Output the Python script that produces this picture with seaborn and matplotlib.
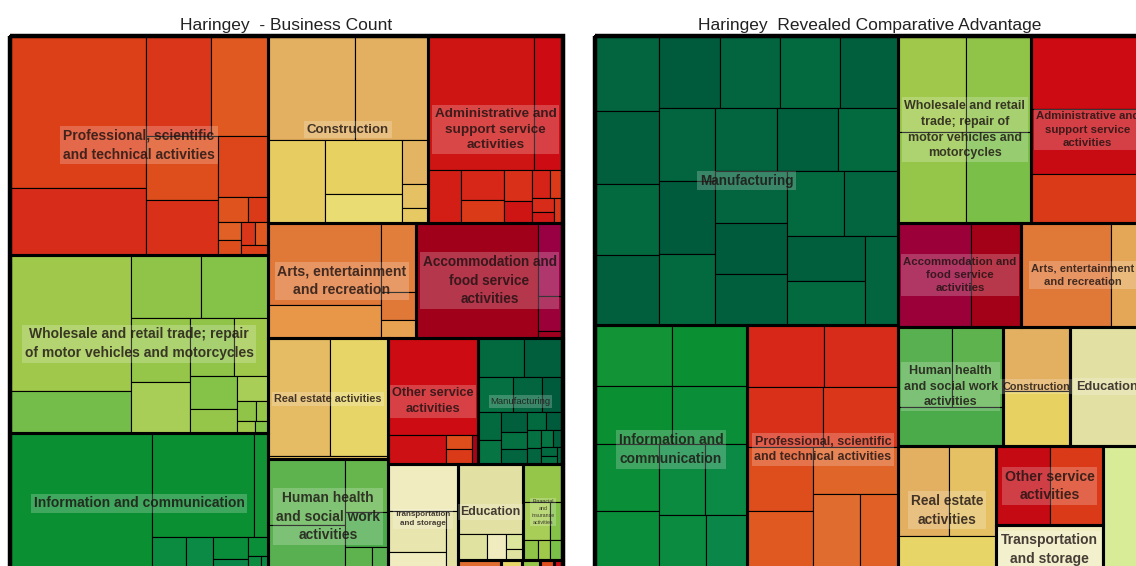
import numpy as np
import seaborn as sns
import matplotlib.pyplot as plt
from matplotlib.patches import Rectangle
from matplotlib.colors import LinearSegmentedColormap

# ---- data ----
# left chart: business count per sub-sector (sizes) and a colour score per sub-sector
left_sectors = ["Professional", "Wholesale", "Information", "Construction", "Administrative",
                "Arts", "Accommodation", "Real estate", "Human health", "Other service",
                "Manufacturing", "Transportation", "Education", "Financial",
                "Agriculture", "Water supply", "Electricity", "Public administration", "Mining"]
left_labels = ["Professional, scientific\nand technical activities",
               "Wholesale and retail trade; repair\nof motor vehicles and motorcycles",
               "Information and communication",
               "Construction",
               "Administrative and\nsupport service\nactivities",
               "Arts, entertainment\nand recreation",
               "Accommodation and\nfood service\nactivities",
               "Real estate activities",
               "Human health\nand social work\nactivities",
               "Other service\nactivities",
               "Manufacturing",
               "Transportation\nand storage",
               "Education",
               "Financial\nand\ninsurance\nactivities",
               "", "", "", "", ""]
left_sizes = [
    [821, 359, 256, 227, 184, 155, 122, 31, 20, 16, 14, 12, 12, 10],
    [658, 200, 175, 170, 150, 120, 100, 80, 60, 45, 30, 15, 10, 8, 6],
    [795, 420, 60, 50, 40, 30, 20, 15, 10, 5],
    [358, 300, 189, 168, 90, 45, 24, 16],
    [566, 152, 70, 50, 40, 35, 25, 20, 15, 12, 10, 9],
    [365, 150, 95, 40, 25],
    [556, 72, 35, 7],
    [290, 270, 16],
    [200, 150, 90, 60, 30, 17],
    [345, 68, 15, 15, 7],
    [70, 60, 50, 40, 30, 25, 22, 20, 18, 15, 14, 12, 10, 9, 8, 7, 6, 5, 4],
    [130, 95, 50, 30],
    [180, 30, 20, 10, 7],
    [60, 40, 20, 12, 10, 10],
    [24], [12], [10], [8], [5],
]
left_scores = [
    [0.31, 0.27, 0.29, 0.35, 0.33, 0.28, 0.32, 0.34, 0.30, 0.36, 0.33, 0.29, 0.35, 0.31],
    [0.71, 0.76, 0.73, 0.74, 0.72, 0.70, 0.73, 0.71, 0.74, 0.72, 0.70, 0.73, 0.72, 0.71, 0.74],
    [0.87, 0.87, 0.86, 0.90, 0.91, 0.89, 0.92, 0.88, 0.90, 0.91],
    [0.47, 0.47, 0.53, 0.54, 0.56, 0.48, 0.50, 0.52],
    [0.22, 0.20, 0.24, 0.26, 0.30, 0.28, 0.22, 0.25, 0.30, 0.27, 0.23, 0.29],
    [0.40, 0.44, 0.41, 0.40, 0.45],
    [0.07, 0.0, 0.02, 0.06],
    [0.49, 0.55, 0.50],
    [0.79, 0.80, 0.78, 0.81, 0.79, 0.80],
    [0.20, 0.21, 0.33, 0.30, 0.10],
    [0.97, 0.99, 0.96, 0.98, 1.0, 0.97, 0.95, 0.99, 0.96, 0.98, 0.97, 1.0, 0.96, 0.98, 0.95, 0.99, 0.97, 0.96, 0.98],
    [0.60, 0.61, 0.60, 0.62],
    [0.62, 0.63, 0.60, 0.64, 0.63],
    [0.72, 0.70, 0.74, 0.73, 0.71, 0.75],
    [0.38], [0.55], [0.72], [0.33], [0.20],
]

# right chart: revealed comparative advantage per sub-sector
right_sectors = ["Manufacturing", "Information", "Professional", "Wholesale", "Administrative",
                 "Accommodation", "Arts", "Human health", "Construction", "Education",
                 "Real estate", "Other service", "Transportation", "Financial"]
right_labels = ["Manufacturing",
                "Information and\ncommunication",
                "Professional, scientific\nand technical activities",
                "Wholesale and retail\ntrade; repair of\nmotor vehicles and\nmotorcycles",
                "Administrative and\nsupport service\nactivities",
                "Accommodation and\nfood service\nactivities",
                "Arts, entertainment\nand recreation",
                "Human health\nand social work\nactivities",
                "Construction",
                "Education",
                "Real estate\nactivities",
                "Other service\nactivities",
                "Transportation\nand storage",
                ""]
right_sizes = [
    [190, 185, 180, 178, 175, 172, 170, 168, 165, 162, 160, 158, 155, 152, 150, 150, 148, 145, 142, 140, 138, 118],
    [185, 182, 180, 178, 170, 160, 130, 120, 110, 97],
    [190, 185, 180, 178, 170, 165, 160, 150, 124],
    [260, 250, 245, 238],
    [330, 290, 222],
    [300, 208],
    [370, 137],
    [170, 165, 164],
    [170, 147],
    [355],
    [180, 170, 146],
    [170, 168],
    [208],
    [208],
]
right_scores = [
    [0.98, 0.99, 0.97, 0.99, 1.0, 0.98, 0.97, 0.99, 0.98, 1.0, 0.97, 0.98, 0.99, 0.97, 0.98, 1.0, 0.99, 0.97, 0.98, 0.99, 0.97, 0.98],
    [0.86, 0.87, 0.87, 0.88, 0.88, 0.89, 0.90, 0.91, 0.90, 0.92],
    [0.26, 0.27, 0.28, 0.29, 0.33, 0.35, 0.37, 0.38, 0.36],
    [0.71, 0.73, 0.72, 0.75],
    [0.20, 0.19, 0.30],
    [0.02, 0.08],
    [0.40, 0.46],
    [0.80, 0.79, 0.81],
    [0.47, 0.54],
    [0.62],
    [0.47, 0.50, 0.55],
    [0.18, 0.30],
    [0.60],
    [0.66],
]


def pivot(vals, x, y, w, h):
    """Ordered pivot-by-size treemap, returns rects in input order."""
    n = len(vals)
    if n == 0:
        return []
    if n == 1:
        return [(x, y, w, h)]
    scale = w * h / sum(vals)
    p = int(np.argmax(vals))
    wide = w >= h
    a1 = sum(vals[:p]) * scale
    if wide:
        d = a1 / h
        r1 = (x, y, d, h)
        x, w = x + d, w - d
    else:
        d = a1 / w
        r1 = (x, y, w, d)
        y, h = y + d, h - d
    ap = vals[p] * scale
    rest = vals[p + 1:]
    best_k, best_r = 0, np.inf
    for k in range(len(rest) + 1):
        a2 = sum(rest[:k]) * scale
        t = (ap + a2) / (h if wide else w)
        s = ap / t
        r = max(t / s, s / t)
        if r < best_r:
            best_k, best_r = k, r
    k = best_k
    t = (ap + sum(rest[:k]) * scale) / (h if wide else w)
    s = ap / t
    if wide:
        rp, r2, r3 = (x, y, t, s), (x, y + s, t, h - s), (x + t, y, w - t, h)
    else:
        rp, r2, r3 = (x, y, s, t), (x + s, y, w - s, t), (x, y + t, w, h - t)
    return pivot(vals[:p], *r1) + [rp] + pivot(rest[:k], *r2) + pivot(rest[k:], *r3)


sns.set_theme(style="white")
plt.rcParams['font.family'] = ['Liberation Sans', 'DejaVu Sans']

cmap = LinearSegmentedColormap.from_list("rca", [
    (0.00, "#990044"), (0.07, "#a00018"), (0.20, "#cc0c12"), (0.27, "#d82c1a"),
    (0.31, "#dc4018"), (0.35, "#e05a20"), (0.40, "#e07838"), (0.44, "#e89848"),
    (0.47, "#e2b060"), (0.50, "#e6c064"), (0.54, "#e6d060"), (0.56, "#e8dc70"),
    (0.60, "#f0ecc0"), (0.62, "#e2e0a2"), (0.66, "#d8ec98"), (0.71, "#a0c84a"),
    (0.75, "#7cc048"), (0.80, "#58b050"), (0.87, "#0a9032"), (0.92, "#0a8848"),
    (1.00, "#005a3c")])


def draw_treemap(ax, W, H, title, labels, sizes, scores, fonts):
    totals = [sum(s) for s in sizes]
    parents = pivot(totals, 0, 0, W, H)
    for (px, py, pw, ph), kids, sc in zip(parents, sizes, scores):
        for (cx, cy, cw, ch), v in zip(pivot(kids, px, py, pw, ph), sc):
            ax.add_patch(Rectangle((cx, cy), cw, ch, facecolor=cmap(v),
                                   edgecolor="black", lw=0.8, clip_on=False))
    for (px, py, pw, ph) in parents:
        ax.add_patch(Rectangle((px, py), pw, ph, fill=False, edgecolor="black",
                               lw=2.2, clip_on=False))
    ax.add_patch(Rectangle((0, 0), W, H, fill=False, edgecolor="black", lw=3.2, clip_on=False))
    for (px, py, pw, ph), lab, (fs, wt) in zip(parents, labels, fonts):
        if lab:
            ax.text(px + pw / 2, py + ph / 2, lab, ha="center", va="center",
                    fontsize=fs, fontweight=wt, color="#1a1010", alpha=0.8,
                    linespacing=1.42, zorder=5,
                    bbox=dict(facecolor="white", alpha=0.22, edgecolor="none",
                              boxstyle="square,pad=0.2"))
    ax.set_xlim(0, W)
    ax.set_ylim(H, 0)
    ax.axis("off")
    ax.set_title(title, fontsize=12.5, color="#222222", pad=4)


left_fonts = [(10, "bold"), (10, "bold"), (10, "bold"), (9.5, "bold"), (9.7, "bold"),
              (10.2, "bold"), (9.8, "bold"), (7.8, "bold"), (10, "bold"), (9.2, "bold"),
              (6.8, "normal"), (5.8, "bold"), (8.9, "bold"), (3.8, "normal"),
              (5, "normal"), (5, "normal"), (5, "normal"), (5, "normal"), (5, "normal")]
right_fonts = [(9.8, "bold"), (10, "bold"), (9, "bold"), (9, "bold"), (8.2, "bold"),
               (8.2, "bold"), (8.1, "bold"), (9, "bold"), (7.8, "bold"), (9.2, "bold"),
               (9.9, "bold"), (10.2, "bold"), (10, "bold"), (8, "bold")]

fig = plt.figure(figsize=(11.36, 5.66), dpi=100)
fig.patch.set_facecolor("white")
FW, FH = 1136, 566
top, H = 36, 538
ax1 = fig.add_axes([10 / FW, (FH - top - H) / FH, 553 / FW, H / FH])
ax2 = fig.add_axes([595 / FW, (FH - top - H) / FH, 549 / FW, H / FH])
draw_treemap(ax1, 553, H, "Haringey  - Business Count", left_labels, left_sizes, left_scores, left_fonts)
draw_treemap(ax2, 549, H, "Haringey  Revealed Comparative Advantage", right_labels, right_sizes, right_scores, right_fonts)

fig.savefig("out.png", dpi=100)
